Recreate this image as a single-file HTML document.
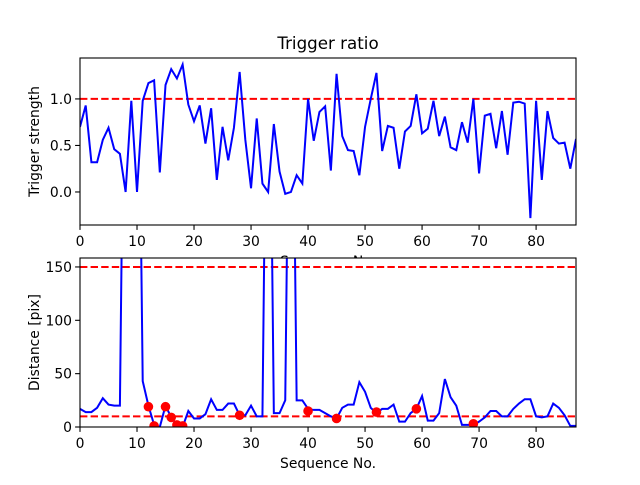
<!DOCTYPE html>
<html><head><meta charset="utf-8"><style>
body{margin:0;background:#fff}
svg{font-family:"DejaVu Sans","Liberation Sans",sans-serif}
</style></head><body>
<svg id="c" width="640" height="480" xmlns="http://www.w3.org/2000/svg">
<defs>
<clipPath id="ct"><rect x="80" y="58" width="496" height="167"/></clipPath>
<clipPath id="cb"><rect x="80" y="258" width="496" height="169"/></clipPath>
</defs>
<rect width="640" height="480" fill="#fff"/>
<text x="328" y="49" text-anchor="middle" font-size="16.7">Trigger ratio</text>
<g id="top"></g>
<g id="bot"></g>
</svg>
<script>
const strength=[0.7,0.93,0.32,0.32,0.56,0.69,0.46,0.41,0.0,0.98,0.0,0.98,1.17,1.2,0.21,1.15,1.32,1.22,1.37,0.94,0.76,0.93,0.52,0.9,0.13,0.7,0.34,0.69,1.29,0.56,0.04,0.79,0.09,0.0,0.73,0.22,-0.02,0.0,0.18,0.09,1.0,0.55,0.86,0.92,0.23,1.27,0.6,0.45,0.44,0.18,0.7,1.0,1.28,0.44,0.71,0.69,0.25,0.65,0.71,1.05,0.63,0.68,0.98,0.6,0.81,0.48,0.45,0.75,0.53,1.0,0.2,0.82,0.84,0.47,0.87,0.4,0.96,0.97,0.95,-0.28,0.98,0.13,0.87,0.58,0.52,0.53,0.25,0.57];
const distance=[17,14,14,18,27,21,20,20,500,500,500,43,20,2,0,20,9,2,0,15,8,8,12,26,16,16,22,22,11,11,20,10,10,500,13,13,25,500,25,25,17,16,16,13,10,8,18,21,21,42,33,18,13,17,17,21,5,5,13,17,29,6,6,13,45,28,20,2,2,2,5,9,15,15,10,10,17,22,26,26,10,9,10,22,18,11,1,1];
const dotX=[12,13,15,16,17,18,28,40,45,52,59,69];
const dotY=[19,1,19,9,2,1,11,15,8,14,17,3];
const xTicks=[0,10,20,30,40,50,60,70,80];
const topTicks=[0.0,0.5,1.0];
const botTicks=[0,50,100,150];
const topThresh=[1.0];
const botThresh=[10,150];
const NS="http://www.w3.org/2000/svg";
const X0=80,X1=576,XMAX=87;
const sx=v=>X0+v*(X1-X0)/XMAX;
const tyT=v=>225-(v+0.355)*(167/1.795);
const tyB=v=>427-v*(169/158.4);
function mk(p,t,a){const e=document.createElementNS(NS,t);for(const k in a)e.setAttribute(k,a[k]);p.appendChild(e);return e;}
function panel(g,top,bot,ty,series,ticks,fmt,thr,clip,ylabel,pre){
  for(const v of thr){
    const l=mk(g,'line',{x1:X0,x2:X1,y1:ty(v),y2:ty(v),stroke:'#f00','stroke-width':2,'stroke-dasharray':'7.4,3.2'});
    
    
  }
  const pl=mk(g,'polyline',{points:series.map((v,i)=>sx(i)+','+ty(v)).join(' '),fill:'none',stroke:'#00f','stroke-width':2,'clip-path':'url(#'+clip+')'});
  
  
  for(const t of xTicks){
    mk(g,'line',{x1:sx(t),x2:sx(t),y1:bot,y2:bot+4.9,stroke:'#000','stroke-width':1.1});
    const tx=mk(g,'text',{x:sx(t),y:bot+21,'text-anchor':'middle','font-size':13.9});
    tx.textContent=t;
    
    
  }
  for(const t of ticks){
    mk(g,'line',{x1:X0-4.9,x2:X0,y1:ty(t),y2:ty(t),stroke:'#000','stroke-width':1.1});
    const tx=mk(g,'text',{x:X0-8,y:ty(t)+5,'text-anchor':'end','font-size':13.9});
    tx.textContent=fmt(t);
    
    
  }
  const xl=mk(g,'text',{x:328,y:bot+41,'text-anchor':'middle','font-size':13.9});
  xl.textContent='Sequence No.';
  
  
  const yl=mk(g,'text',{x:0,y:0,'text-anchor':'middle','font-size':13.9,transform:'translate(39,'+((top+bot)/2)+') rotate(-90)'});
  yl.textContent=ylabel;
  
  
}
const gt=document.getElementById('top'),gb=document.getElementById('bot');
panel(gt,58,225,tyT,strength,topTicks,v=>v.toFixed(1),topThresh,'ct','Trigger strength','top-');
mk(gb,'rect',{x:X0,y:258,width:X1-X0,height:169,fill:'#fff'});
panel(gb,258,427,tyB,distance,botTicks,v=>String(v),botThresh,'cb','Distance [pix]','bottom-');
dotX.forEach((x,i)=>{
  const c=mk(gb,'circle',{cx:sx(x),cy:tyB(dotY[i]),r:4.8,fill:'#f00','clip-path':'url(#cb)'});
  
  
});
[[58,225],[258,427]].forEach(([a,b],i)=>{
  const fr=mk(document.getElementById('c'),'rect',{x:X0,y:a,width:X1-X0,height:b-a,fill:'none',stroke:'#000','stroke-width':1.1});
  
  
});
</script>
</body></html>
